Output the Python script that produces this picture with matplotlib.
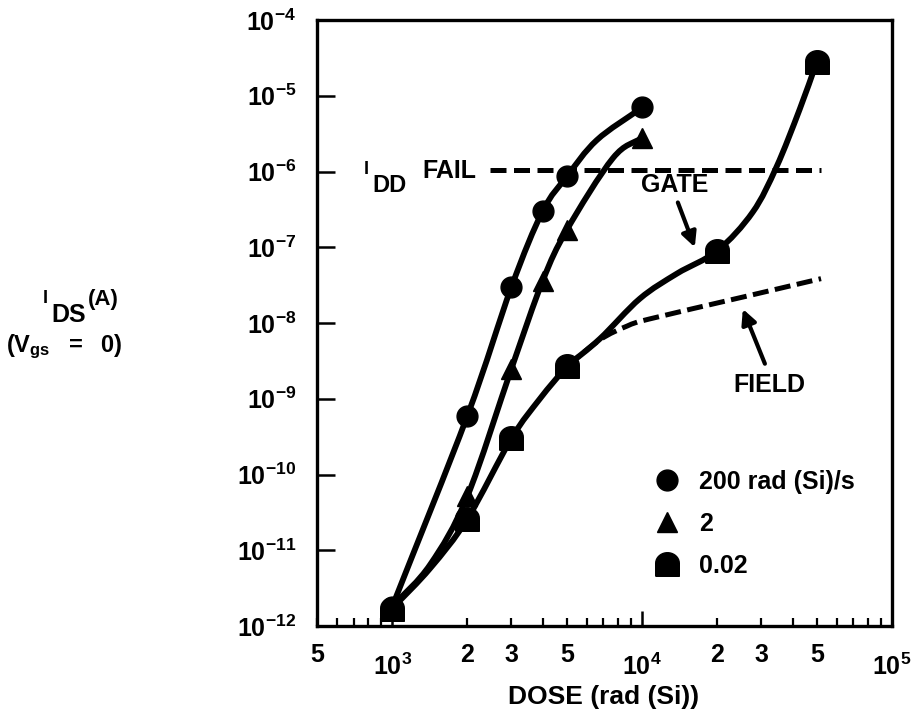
import numpy as np
import matplotlib
matplotlib.use("Agg")
from matplotlib import pyplot as plt
from matplotlib.path import Path
from matplotlib.patches import PathPatch
from matplotlib.lines import Line2D
from matplotlib.ticker import FixedLocator, FixedFormatter, NullLocator

plt.rcParams["font.family"] = ["Liberation Sans", "DejaVu Sans"]
plt.rcParams["font.weight"] = "bold"
plt.rcParams["axes.labelweight"] = "bold"
plt.rcParams["mathtext.fontset"] = "custom"
plt.rcParams["mathtext.rm"] = "Liberation Sans:bold"
plt.rcParams["mathtext.it"] = "Liberation Sans:bold"
plt.rcParams["mathtext.bf"] = "Liberation Sans:bold"
plt.rcParams["mathtext.default"] = "rm"

# measured points for the three dose rates
dose_200 = [1000, 2000, 3000, 4000, 5000, 10000]
ids_200 = [1.8e-12, 6e-10, 3e-8, 3e-7, 8.6e-7, 7e-6]
dose_2 = [1000, 2000, 3000, 4000, 5000, 10000]
ids_2 = [1.8e-12, 5.2e-11, 2.5e-9, 3.6e-8, 1.7e-7, 2.8e-6]
dose_002 = [1000, 2000, 3000, 5000, 20000, 50000]
ids_002 = [1.7e-12, 2.6e-11, 3e-10, 2.7e-9, 9e-8, 2.8e-5]

# the hand drawn curves
curve_200_x = [1000, 2000, 3000, 4000, 5000, 6590, 10000]
curve_200_y = [1.8e-12, 6e-10, 3e-8, 3e-7, 8.6e-7, 2.6e-6, 7e-6]
curve_2_x = [1000, 1420, 2000, 3000, 4000, 5000, 7640, 10000]
curve_2_y = [1.8e-12, 6.5e-12, 5.2e-11, 2.5e-9, 3.6e-8, 1.7e-7, 1.5e-6, 2.8e-6]
curve_002_x = [1000, 1420, 2000, 3000, 3900, 5000]
curve_002_y = [1.7e-12, 5.8e-12, 2.6e-11, 3e-10, 1e-9, 2.7e-9]
gate_x = [5000, 6780, 9800, 13800, 20000, 27700, 34500, 42700, 50000]
gate_y = [2.7e-9, 6.2e-9, 2.1e-8, 4.5e-8, 9e-8, 2.9e-7, 1.15e-6, 6.6e-6, 2.8e-5]
field_x = [5000, 6780, 8700, 10700, 25300, 52000]
field_y = [2.7e-9, 6e-9, 9.1e-9, 1.13e-8, 2.2e-8, 3.85e-8]
idd_fail_x = [2460, 52000]
idd_fail_y = [1.06e-6, 1.06e-6]

legend_labels = ["200 rad (Si)/s", "2", "0.02"]

y_ticks = [1e-12, 1e-11, 1e-10, 1e-9, 1e-8, 1e-7, 1e-6, 1e-5, 1e-4]
y_ticklabels = [r"$10^{-12}$", r"$10^{-11}$", r"$10^{-10}$", r"$10^{-9}$", r"$10^{-8}$",
                r"$10^{-7}$", r"$10^{-6}$", r"$10^{-5}$", r"$10^{-4}$"]
x_major = [1e3, 1e4, 1e5]
x_major_labels = [r"$10^{3}$", r"$10^{4}$", r"$10^{5}$"]
x_minor = [500, 600, 700, 800, 900,
           2000, 3000, 4000, 5000, 6000, 7000, 8000, 9000,
           20000, 30000, 40000, 50000, 60000, 70000, 80000, 90000]
x_minor_labels = ["5", "", "", "", "",
                  "2", "3", "", "5", "", "", "", "",
                  "2", "3", "", "5", "", "", "", ""]

# rounded-top square marker
t = np.linspace(0, np.pi, 20)
verts = [(-1, -1), (1, -1), (1, 0.1)] + [(np.cos(a), 0.1 + 0.9 * np.sin(a)) for a in t] + [(-1, -1)]
bullet = Path(verts)

W, H = 923, 713


def fxy(x, y):
    return x / W, 1 - y / H


def smooth_curve(ax, xs, ys, **kw):
    # bezier path through the traced points (tangents taken in log-log space)
    lx, ly = np.log10(xs), np.log10(ys)
    p = np.column_stack([lx, ly])
    n = len(p)
    tang = np.zeros_like(p)
    tang[1:-1] = (p[2:] - p[:-2]) / 2
    tang[0] = p[1] - p[0]
    tang[-1] = p[-1] - p[-2]
    verts = [p[0]]
    codes = [Path.MOVETO]
    for i in range(n - 1):
        verts += [p[i] + tang[i] / 3, p[i + 1] - tang[i + 1] / 3, p[i + 1]]
        codes += [Path.CURVE4] * 3
    verts = 10 ** np.array(verts)
    patch = PathPatch(Path(verts, codes), fill=False, **kw)
    ax.add_patch(patch)


fig = plt.figure(figsize=(W / 100, H / 100), dpi=100)
ax = fig.add_axes([317 / W, 1 - 626 / H, 575 / W, 606 / H])
ax.set_xscale("log")
ax.set_yscale("log")
ax.set_xlim(500, 1e5)
ax.set_ylim(1e-12, 1e-4)

lw = 4.2
for cx, cy in [(curve_200_x, curve_200_y), (curve_2_x, curve_2_y),
               (curve_002_x, curve_002_y), (gate_x, gate_y)]:
    smooth_curve(ax, cx, cy, edgecolor="k", lw=lw, capstyle="round")
smooth_curve(ax, field_x, field_y, edgecolor="k", lw=3.6, linestyle=(0, (3.2, 1.3)))
ax.plot(idd_fail_x, idd_fail_y, color="k", lw=3.6, linestyle=(0, (3.2, 1.5)))

ax.plot(dose_200, ids_200, "ko", ms=15, ls="none", zorder=5)
ax.plot(dose_2, ids_2, "k^", ms=15, ls="none", zorder=5)
ax.plot(dose_002, ids_002, color="k", marker=bullet, ms=17, ls="none", zorder=5)

# annotations
ax.annotate("", xy=(16250, 1e-7), xytext=(13900, 3.9e-7),
            arrowprops=dict(arrowstyle="-|>", color="k", lw=3, mutation_scale=22,
                            shrinkA=0, shrinkB=0))
ax.text(13500, 6.7e-7, "GATE", ha="center", va="center", fontsize=18)
ax.annotate("", xy=(25300, 1.53e-8), xytext=(31000, 2.9e-9),
            arrowprops=dict(arrowstyle="-|>", color="k", lw=3, mutation_scale=22,
                            shrinkA=0, shrinkB=0))
ax.text(32400, 1.5e-9, "FIELD", ha="center", va="center", fontsize=18)

fig.text(*fxy(366, 169), "I", ha="center", va="center", fontsize=13)
fig.text(*fxy(390, 186), "DD", ha="center", va="center", fontsize=17)
fig.text(*fxy(449, 171), "FAIL", ha="center", va="center", fontsize=18)

# y axis label
fig.text(*fxy(45, 298), "I", ha="center", va="center", fontsize=13)
fig.text(*fxy(69, 315), "DS", ha="center", va="center", fontsize=18)
fig.text(*fxy(103, 300), "(A)", ha="center", va="center", fontsize=16)
fig.text(*fxy(64, 347), r"$(V_{gs}\ \ =\ \ 0)$", ha="center", va="center", fontsize=17)

# axes and ticks
for s in ax.spines.values():
    s.set_linewidth(2.4)
ax.yaxis.set_major_locator(FixedLocator(y_ticks))
ax.yaxis.set_major_formatter(FixedFormatter(y_ticklabels))
ax.yaxis.set_minor_locator(NullLocator())
ax.xaxis.set_major_locator(FixedLocator(x_major))
ax.xaxis.set_major_formatter(FixedFormatter(x_major_labels))
ax.xaxis.set_minor_locator(FixedLocator(x_minor))
ax.xaxis.set_minor_formatter(FixedFormatter(x_minor_labels))
ax.tick_params(axis="y", which="major", direction="in", length=13, width=1.8,
               labelsize=18, pad=15)
ax.tick_params(axis="x", which="major", direction="in", length=11, width=1.8,
               labelsize=18, pad=20)
ax.tick_params(axis="x", which="minor", direction="in", length=6, width=1.6,
               labelsize=18, pad=12)
fig.text(*fxy(604, 697), "DOSE (rad (Si))", ha="center", va="center", fontsize=19)

handles = [
    Line2D([], [], color="k", marker="o", ms=15, ls="none"),
    Line2D([], [], color="k", marker="^", ms=15, ls="none"),
    Line2D([], [], color="k", marker=bullet, ms=17, ls="none"),
]
ax.legend(handles, legend_labels, loc="upper left", bbox_to_anchor=fxy(654, 470),
          bbox_transform=fig.transFigure, frameon=False, fontsize=18,
          handlelength=1.0, handletextpad=0.8, labelspacing=0.72, borderpad=0,
          borderaxespad=0)

fig.savefig("out.png", dpi=100)
